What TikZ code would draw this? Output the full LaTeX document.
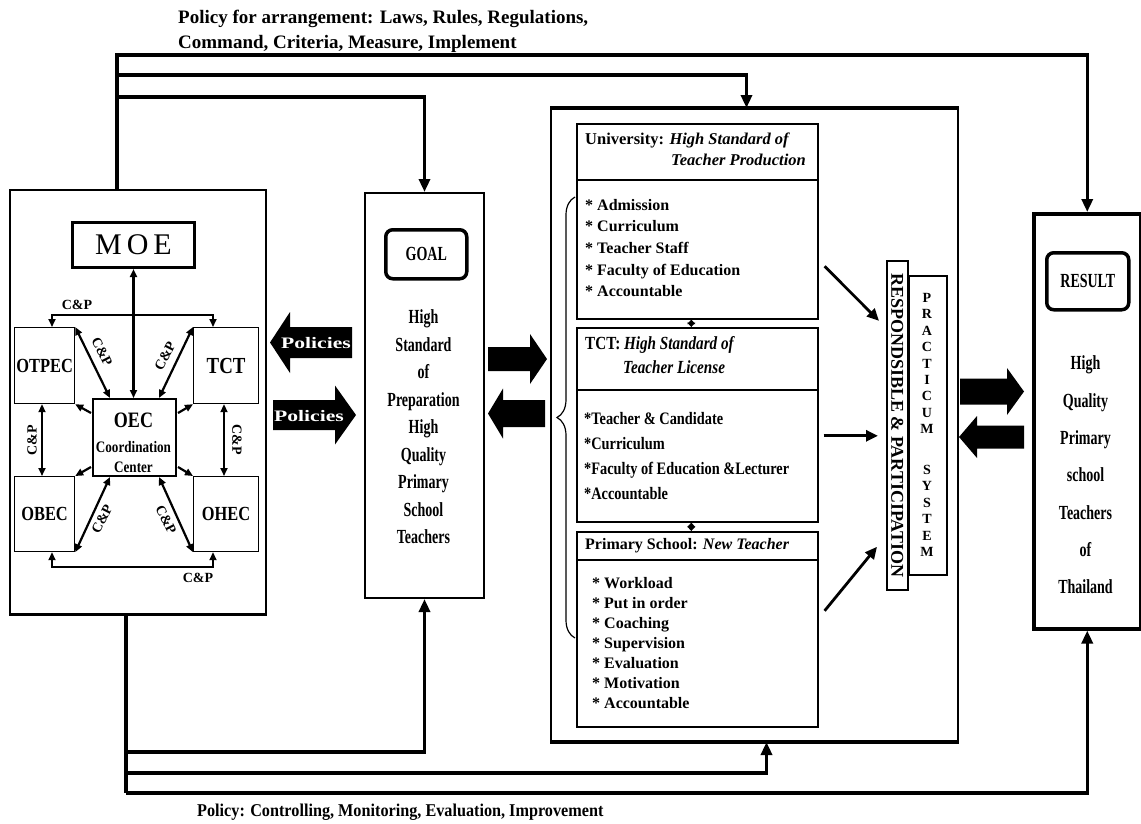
\documentclass[tikz,border=0pt]{standalone}
\usepackage{fontspec}
\setmainfont{Liberation Serif}
\newfontfamily\condfont[FakeStretch=0.7]{Liberation Serif}
\newfontfamily\semifont[FakeStretch=0.82]{Liberation Serif}
\newfontfamily\ninefont[FakeStretch=0.9]{Liberation Serif}
\newfontfamily\widefont[FakeStretch=1.35]{Liberation Serif}
\usetikzlibrary{arrows.meta,decorations.pathreplacing,calc}
\newcommand\setsz[1]{\fontsize{#1}{#1}\selectfont}
\newcommand\blkarrow[6]{% tail x, tip x, centre y, half body, half head, head length (signed)
  \fill ({#1},{#3-#4}) -- ({#2-(#6)},{#3-#4}) -- ({#2-(#6)},{#3-#5}) -- ({#2},{#3})
        -- ({#2-(#6)},{#3+#5}) -- ({#2-(#6)},{#3+#4}) -- ({#1},{#3+#4}) -- cycle;}
\begin{document}
\begin{tikzpicture}[x=1pt,y=-1pt,
  box/.style={draw, line width=1.6pt, inner sep=0pt, anchor=north west},
  lbl/.style={inner sep=0pt},
  cp/.style={inner sep=0pt, font=\setsz{14}\bfseries},
  pol/.style={line width=3.5pt, -{Triangle[length=13pt,width=11pt]}},
  dbl/.style={line width=2.2pt, {Triangle[length=8pt,width=7pt]}-{Triangle[length=8pt,width=7pt]}},
  sgl/.style={line width=2.2pt, -{Triangle[length=8pt,width=7pt]}},
  feed/.style={line width=2.8pt, -{Triangle[length=12pt,width=11pt]}},
  tiny/.style={line width=1pt, {Triangle[length=4.5pt,width=8pt]}-{Triangle[length=4.5pt,width=8pt]}},
  orgname/.style={font=\setsz{20}\semifont\bfseries},
  listA/.style={lbl, anchor=base west, font=\setsz{16}\bfseries},
  listB/.style={lbl, anchor=base west, font=\setsz{17.5}\semifont\bfseries},
  headbox/.style={draw, line width=3.5pt, rounded corners=7pt, inner sep=0pt, anchor=north west, font=\setsz{20}\condfont\bfseries},
  whitetxt/.style={lbl, text=white, font=\setsz{16}\widefont\bfseries},
  vletter/.style={lbl, font=\setsz{14}\bfseries},
]
\useasboundingbox (0,0) rectangle (1141,823);

% ---------- headings ----------
\node[lbl, anchor=base west, font=\setsz{19}\bfseries] (toptxt1) at (178,23) {Policy for arrangement: Laws, Rules, Regulations,};
\node[lbl, anchor=base west, font=\setsz{19}\bfseries] (toptxt2) at (178,48) {Command, Criteria, Measure, Implement};
\node[lbl, anchor=base west, font=\setsz{18}\ninefont\bfseries] (bottxt) at (197,816) {Policy: Controlling, Monitoring, Evaluation, Improvement};

% ---------- left block ----------
\node[box, line width=1.8pt, minimum width=256pt, minimum height=424pt] (govbox) at (9,189) {};
\draw[line width=2.8pt] (govbox.south west) -- (govbox.south east);
\node[box, line width=3pt, minimum width=122pt, minimum height=45pt, font=\setsz{30}] (moe) at (71,221) {M\hspace{5pt}O\hspace{5pt}E};
\node[box, line width=1.2pt, minimum width=60pt, minimum height=76pt, orgname] (otpec) at (14,327) {OTPEC};
\node[box, line width=1.2pt, minimum width=65pt, minimum height=76pt, font=\setsz{23}\semifont\bfseries] (tct) at (193,327) {TCT};
\node[box, line width=1.2pt, minimum width=60pt, minimum height=75pt, orgname] (obec) at (14,476) {OBEC};
\node[box, line width=1.2pt, minimum width=65pt, minimum height=75pt, orgname] (ohec) at (193,476) {OHEC};
\node[box, line width=2pt, minimum width=83pt, minimum height=77pt] (oec) at (92,398) {};
\node[lbl, font=\setsz{22}\semifont\bfseries] (oect1) at (133.5,420) {OEC};
\node[lbl, font=\setsz{16}\semifont\bfseries] (oect2) at (133.5,447) {Coordination};
\node[lbl, font=\setsz{16}\semifont\bfseries] (oect3) at (133.5,467) {Center};

\draw[dbl] (moe.south) -- (moe.south |- oec.north);
\draw[dbl] (otpec.north east) -- ($(oec.north west)+(18,0)$);
\draw[dbl] (tct.north west) -- ($(oec.north east)+(-18,0)$);
\draw[dbl] (obec.south east) -- ($(oec.south west)+(18,0)$);
\draw[dbl] (ohec.south west) -- ($(oec.south east)+(-18,0)$);
\draw[sgl] ($(oec.north west)+(-1,15)$) -- (otpec.south east);
\draw[sgl] ($(oec.north east)+(1,15)$) -- (tct.south west);
\draw[sgl] ($(oec.south west)+(-1,-10)$) -- (obec.north east);
\draw[sgl] ($(oec.south east)+(1,-10)$) -- (ohec.north west);

\coordinate (cpa) at (52,315); \coordinate (cpb) at (213,315);
\coordinate (cpc) at (52,567); \coordinate (cpd) at (213,567);
\draw[dbl, line width=1.8pt] (cpa |- otpec.north) -- (cpa) -- (cpb) -- (cpb |- tct.north);
\draw[dbl, line width=1.8pt] (cpc |- obec.south) -- (cpc) -- (cpd) -- (cpd |- ohec.south);
\coordinate (vl) at (42,440); \coordinate (vr) at (224,440);
\draw[dbl] (vl |- otpec.south) -- (vl |- obec.north);
\draw[dbl] (vr |- tct.south) -- (vr |- ohec.north);

\node[cp] (cp1) at (77,305) {C\&P};
\node[cp] (cp2) at (198,578) {C\&P};
\node[cp, rotate=90] (cp3) at (32,440) {C\&P};
\node[cp, rotate=-90] (cp4) at (237,440) {C\&P};
\node[cp, rotate=-63] (cp5) at (102,352) {C\&P};
\node[cp, rotate=63] (cp6) at (165,356) {C\&P};
\node[cp, rotate=63] (cp7) at (102,519) {C\&P};
\node[cp, rotate=-63] (cp8) at (166,520) {C\&P};

% ---------- policies arrows ----------
\blkarrow{352}{270}{342.5}{15.5}{30.5}{-20}
\blkarrow{273}{356}{415}{15}{29.5}{21}
\node[whitetxt] (polL) at (316,343) {Policies};
\node[whitetxt] (polR) at (309,416) {Policies};

% ---------- goal ----------
\node[box, line width=2pt, minimum width=119pt, minimum height=405pt] (goal) at (364,192) {};
\node[headbox, minimum width=81pt, minimum height=49pt] (goalhead) at (384,228) {GOAL};
\node[lbl, align=center, font=\fontsize{20}{27.5}\selectfont\condfont\bfseries] (goaltxt) at (423.5,427)
  {High\\Standard\\of\\Preparation\\High\\Quality\\Primary\\School\\Teachers};

\blkarrow{488}{547}{359}{12}{25}{17}
\blkarrow{545}{488}{413.5}{13.5}{25}{-15}

% ---------- big box ----------
\node[box, line width=2pt, minimum width=407pt, minimum height=632pt] (bigbox) at (550,108) {};
\draw[line width=4pt] (bigbox.north west) -- (bigbox.north east);
\draw[line width=4pt] (bigbox.south west) -- (bigbox.south east);

\node[box, minimum width=241pt, minimum height=56pt] (uniH) at (576,123) {};
\node[box, minimum width=241pt, minimum height=139pt] (uniL) at (576,179) {};
\node[box, minimum width=241pt, minimum height=62pt] (tctH) at (576,327) {};
\node[box, minimum width=241pt, minimum height=132pt] (tctL) at (576,389) {};
\node[box, minimum width=241pt, minimum height=28pt] (priH) at (576,531) {};
\node[box, minimum width=241pt, minimum height=167pt] (priL) at (576,559) {};

\node[listA, font=\setsz{16.5}\bfseries] (uniT1) at (585,144.5) {University: \textit{High Standard of}};
\node[lbl, anchor=base east, font=\setsz{16.5}\bfseries] (uniT2) at (806,165.5) {\textit{Teacher Production}};
\foreach \t [count=\i] in {* Admission, * Curriculum, * Teacher Staff, * Faculty of Education, * Accountable}
  \node[listA] (uni\i) at (585,{210+21.7*(\i-1)}) {\t};

\node[listB, font=\setsz{18.5}\semifont\bfseries] (tctT1) at (585,349) {TCT: \textit{High Standard of}};
\node[listB, font=\setsz{18.5}\semifont\bfseries] (tctT2) at (623,373) {\textit{Teacher License}};
\foreach \t [count=\i] in {*Teacher \& Candidate, *Curriculum, *Faculty of Education \&Lecturer, *Accountable}
  \node[listB] (tct\i) at (584,{424+25*(\i-1)}) {\t};

\node[listA] (priT) at (585,549.5) {Primary School: \textit{New Teacher}};
\foreach \t [count=\i] in {* Workload, * Put in order, * Coaching, * Supervision, * Evaluation, * Motivation, * Accountable}
  \node[listA] (pri\i) at (592,{588.5+20*(\i-1)}) {\t};

\draw[tiny] ($(uniL.south)+(-6,0)$) -- ($(tctH.north)+(-6,0)$);
\draw[tiny] ($(tctL.south)+(-6,0)$) -- ($(priH.north)+(-6,0)$);

\draw[line width=1.2pt, decorate, decoration={brace, amplitude=18pt}] (575,638) -- (575,197);

\node[box, minimum width=21pt, minimum height=329pt] (rp) at (886,260) {};
\node[lbl, rotate=-90, font=\setsz{18}\bfseries] (rptxt) at (rp.center) {RESPONDSIBLE \& PARTICIPATION};
\node[box, minimum width=38pt, minimum height=299pt] (prac) at (908,275) {};
\foreach \l [count=\i] in {P,R,A,C,T,I,C,U,M}
  \node[vletter] (pl\i) at (927,{298+16.4*(\i-1)}) {\l};
\foreach \l [count=\i] in {S,Y,S,T,E,M}
  \node[vletter] (sl\i) at (927,{470+16.4*(\i-1)}) {\l};

\draw[feed] ($(uniL.east)+(6,17)$) -- ($(rp.west)+(-7,-104.5)$);
\draw[feed] ($(tctL.east)+(5,-20)$) -- ($(rp.west)+(-8,10.5)$);
\draw[feed] ($(priL.east)+(6,-32.5)$) -- ($(rp.west)+(-9,121.5)$);

% ---------- result ----------
\blkarrow{960}{1024}{391.5}{13}{23.5}{17}
\blkarrow{1024}{959}{437}{11.5}{21}{-18}
\node[box, line width=3.5pt, minimum width=107pt, minimum height=415pt] (result) at (1032,212) {};
\node[headbox, minimum width=82pt, minimum height=57pt] (resulthead) at (1045,251) {RESULT};
\node[lbl, align=center, font=\fontsize{20}{37.33}\selectfont\condfont\bfseries] (resulttxt) at (1085.5,475)
  {High\\Quality\\Primary\\school\\Teachers\\of\\Thailand};

% ---------- policy connectors ----------
\coordinate (tx) at (117,55);
\coordinate (tb) at (117,75);
\coordinate (tc) at (117,97);
\draw[pol] (tx |- govbox.north) -- (tx) -| (result.north);
\draw[pol] (tb) -| ($(bigbox.north)+(-8,0)$);
\draw[pol] (tc) -| (goal.north);

\coordinate (bx) at (126,793);
\coordinate (ba) at (126,752);
\coordinate (bb) at (126,773);
\draw[line width=3.5pt] (bx |- govbox.south) -- (bx);
\draw[pol] (ba) -| (goal.south);
\draw[pol] (bb) -| ($(bigbox.south)+(12,0)$);
\draw[pol] (bx) -| (result.south);
\end{tikzpicture}
\end{document}
